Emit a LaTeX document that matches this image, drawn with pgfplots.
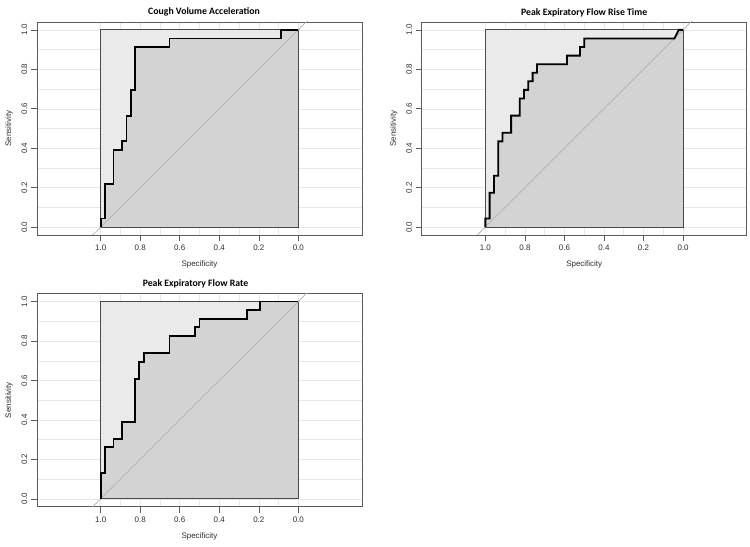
\documentclass[border=0pt]{standalone}
\usepackage{pgfplots}
\pgfplotsset{compat=1.18}
\usepackage{pgfplotstable}
\usepackage{fontspec}
\setmainfont{Liberation Sans}
\newfontfamily\titlefont{Carlito}

\definecolor{boxfill}{HTML}{EAEAEA}
\definecolor{aucfill}{HTML}{D3D3D3}
\definecolor{framegray}{HTML}{5C5C5C}
\definecolor{boxedge}{HTML}{4A4A4A}
\definecolor{diaggray}{HTML}{B0B0B0}
\definecolor{gridgray}{HTML}{E8E8E8}
\definecolor{labelgray}{HTML}{2E2E2E}

% Cough Volume Acceleration (specificity, sensitivity)
\pgfplotstableread{
spec sens
1.0000 0.0000
1.0000 0.0435
0.9783 0.0435
0.9783 0.2174
0.9348 0.2174
0.9348 0.3913
0.8913 0.3913
0.8913 0.4348
0.8696 0.4348
0.8696 0.5652
0.8478 0.5652
0.8478 0.6957
0.8261 0.6957
0.8261 0.9130
0.6522 0.9130
0.6522 0.9565
0.0870 0.9565
0.0870 1.0000
0.0000 1.0000
}\cva

% Peak Expiratory Flow Rise Time
\pgfplotstableread{
spec sens
1.0000 0.0000
1.0000 0.0435
0.9783 0.0435
0.9783 0.1739
0.9565 0.1739
0.9565 0.2609
0.9348 0.2609
0.9348 0.4348
0.9130 0.4348
0.9130 0.4783
0.8696 0.4783
0.8696 0.5652
0.8261 0.5652
0.8261 0.6522
0.8043 0.6522
0.8043 0.6957
0.7826 0.6957
0.7826 0.7391
0.7609 0.7391
0.7609 0.7826
0.7391 0.7826
0.7391 0.8261
0.5870 0.8261
0.5870 0.8696
0.5217 0.8696
0.5217 0.9130
0.5000 0.9130
0.5000 0.9565
0.0435 0.9565
0.0217 1.0000
0.0000 1.0000
}\pefrt

% Peak Expiratory Flow Rate
\pgfplotstableread{
spec sens
1.0000 0.0000
1.0000 0.1304
0.9783 0.1304
0.9783 0.2609
0.9348 0.2609
0.9348 0.3043
0.8913 0.3043
0.8913 0.3913
0.8261 0.3913
0.8261 0.6087
0.8043 0.6087
0.8043 0.6957
0.7826 0.6957
0.7826 0.7391
0.6522 0.7391
0.6522 0.8261
0.5217 0.8261
0.5217 0.8696
0.5000 0.8696
0.5000 0.9130
0.2609 0.9130
0.2609 0.9565
0.1957 0.9565
0.1957 1.0000
0.0000 1.0000
}\pefr

\pgfplotsset{
  rocaxis/.style={
    scale only axis, width=325bp, height=213bp,
    x dir=reverse,
    xmin=-0.322, xmax=1.322, ymin=-0.04, ymax=1.04,
    xtick={0,0.2,0.4,0.6,0.8,1}, xticklabels={0.0,0.2,0.4,0.6,0.8,1.0},
    ytick={0,0.2,0.4,0.6,0.8,1}, yticklabels={0.0,0.2,0.4,0.6,0.8,1.0},
    minor xtick={0.1,0.3,0.5,0.7,0.9},
    minor ytick={0.1,0.3,0.5,0.7,0.9},
    grid=both,
    major grid style={gridgray, line width=0.5bp},
    minor grid style={gridgray, line width=0.5bp},
    minor tick length=0pt,
    tick align=outside, major tick length=6bp,
    xtick pos=left, ytick pos=left,
    tick style={framegray, line width=0.6bp},
    axis line style={framegray, line width=0.9bp},
    every tick label/.append style={font=\fontsize{8}{9}\selectfont, text=labelgray},
    xticklabel style={anchor=center, yshift=-6.6bp},
    yticklabel style={anchor=center, xshift=-6.6bp, rotate=90},
    xlabel={Specificity}, ylabel={Sensitivity},
    label style={font=\fontsize{8}{9}\selectfont, text=labelgray},
    xlabel style={at={([yshift=-29.3bp]axis description cs:0.5,0)}, anchor=center},
    ylabel style={at={([xshift=-28bp]axis description cs:0,0.5)}, anchor=center},
    every axis title shift=0pt,
    title style={font=\titlefont\bfseries\fontsize{9.8}{11}\selectfont, anchor=center},
  }
}

\begin{document}
\begin{tikzpicture}
% ---------- Cough Volume Acceleration ----------
\begin{axis}[rocaxis, at={(37bp,312bp)}, anchor=south west,
  title={Cough Volume Acceleration},
  title style={at={([xshift=4.5bp,yshift=10.3bp]axis description cs:0.5,1)}}]
  \addplot[fill=boxfill, draw=none] coordinates {(1,0) (1,1) (0,1) (0,0)} -- cycle;
  \addplot[fill=aucfill, draw=none] table[x=spec,y=sens] {\cva} \closedcycle;
  \addplot[draw=boxedge, line width=1bp] coordinates {(1,0) (1,1) (0,1) (0,0)} -- cycle;
  \addplot[diaggray, line width=0.7bp] coordinates {(1.1,-0.1) (-0.1,1.1)};
  \addplot[black, line width=1.8bp, line join=miter] table[x=spec,y=sens] {\cva};
\end{axis}
% ---------- Peak Expiratory Flow Rise Time ----------
\begin{axis}[rocaxis, at={(421.7bp,312bp)}, anchor=south west,
  title={Peak Expiratory Flow Rise Time},
  title style={at={([yshift=9.5bp]axis description cs:0.5,1)}}]
  \addplot[fill=boxfill, draw=none] coordinates {(1,0) (1,1) (0,1) (0,0)} -- cycle;
  \addplot[fill=aucfill, draw=none] table[x=spec,y=sens] {\pefrt} \closedcycle;
  \addplot[draw=boxedge, line width=1bp] coordinates {(1,0) (1,1) (0,1) (0,0)} -- cycle;
  \addplot[diaggray, line width=0.7bp] coordinates {(1.1,-0.1) (-0.1,1.1)};
  \addplot[black, line width=1.8bp, line join=miter] table[x=spec,y=sens] {\pefrt};
\end{axis}
% ---------- Peak Expiratory Flow Rate ----------
\begin{axis}[rocaxis, at={(37bp,40.3bp)}, anchor=south west,
  title={Peak Expiratory Flow Rate},
  title style={at={([xshift=-4bp,yshift=10bp]axis description cs:0.5,1)}}]
  \addplot[fill=boxfill, draw=none] coordinates {(1,0) (1,1) (0,1) (0,0)} -- cycle;
  \addplot[fill=aucfill, draw=none] table[x=spec,y=sens] {\pefr} \closedcycle;
  \addplot[draw=boxedge, line width=1bp] coordinates {(1,0) (1,1) (0,1) (0,0)} -- cycle;
  \addplot[diaggray, line width=0.7bp] coordinates {(1.1,-0.1) (-0.1,1.1)};
  \addplot[black, line width=1.8bp, line join=miter] table[x=spec,y=sens] {\pefr};
\end{axis}
\pgfresetboundingbox
\useasboundingbox (0,0) rectangle (750bp,547bp);
\end{tikzpicture}
\end{document}
